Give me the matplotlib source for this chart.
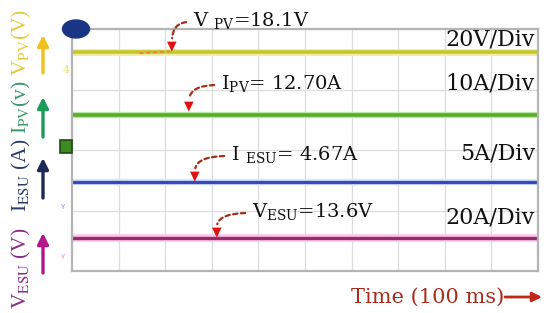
import numpy as np
import matplotlib
matplotlib.use('Agg')
from matplotlib import pyplot as plt
from matplotlib.patches import Ellipse, Rectangle

plt.rcParams['font.family'] = ['DejaVu Serif']
plt.rcParams['mathtext.fontset'] = 'custom'
plt.rcParams['mathtext.rm'] = 'DejaVu Serif'

W, H = 550, 313

# time axis in divisions (100 ms per div), trace levels in screen divisions
t = [0, 1, 2, 3, 4, 5, 6, 7, 8, 9, 10]
v_pv = [3.62] * 11
i_pv = [2.58] * 11
i_esu = [1.47] * 11
v_esu = [0.545] * 11

readings = [r'V $_{\mathrm{PV}}$=18.1V', r'I$_{\mathrm{PV}}$= 12.70A',
            r'I $_{\mathrm{ESU}}$= 4.67A', r'V$_{\mathrm{ESU}}$=13.6V']
scales = ['20V/Div', '10A/Div', '5A/Div', '20A/Div']


def fp(x, y):
    # reference pixel -> figure fraction
    return x / W, 1 - y / H


fig = plt.figure(figsize=(5.5, 3.13), dpi=100)
ax = fig.add_axes([72 / W, 1 - 271 / H, (538 - 72) / W, (271 - 29) / H])
ax.set_xlim(0, 10)
ax.set_ylim(0, 4)
ax.set_xticks(range(1, 10))
ax.set_yticks([1, 2, 3])
ax.tick_params(length=0, labelbottom=False, labelleft=False)
ax.grid(True, color='#dcdcdc', lw=0.9)
for s in ax.spines.values():
    s.set_color('#b4b4b4')
    s.set_linewidth(1.6)

# traces with a soft glow underneath
ax.plot(t, v_pv, color='#f0f0a0', lw=5, solid_capstyle='butt')
ax.plot(t, v_pv, color='#c6c62c', lw=2.6, solid_capstyle='butt')
ax.plot(t, i_pv, color='#b8e8a0', lw=4.5, solid_capstyle='butt')
ax.plot(t, i_pv, color='#5aaa2c', lw=2.6, solid_capstyle='butt')
ax.plot(t, i_esu, color='#d4e8f8', lw=4.5, solid_capstyle='butt')
ax.plot(t, i_esu, color='#3a48c0', lw=2.4, solid_capstyle='butt')
ax.plot(t, v_esu, color='#f8c8ec', lw=5.5, solid_capstyle='butt')
ax.plot(t, v_esu, color='#9a2a6a', lw=2.4, solid_capstyle='butt')

# channel markers on the left edge
fig.patches.append(Ellipse(fp(76, 29), 27 / W, 18 / H, transform=fig.transFigure,
                           color='#1b3585', zorder=5))
fig.patches.append(Rectangle(fp(60, 153), 12 / W, 13 / H, transform=fig.transFigure,
                             facecolor='#3c8a22', edgecolor='#1e4a10', lw=1.2, zorder=5))
fig.text(*fp(66, 70), '4', color='#e8e070', fontsize=8, ha='center', va='center')
fig.text(*fp(63, 208), 'ᵞ', color='#8a8ae0', fontsize=8, ha='center', va='center',
         family=['DejaVu Sans'])
fig.text(*fp(63, 258), 'ᵞ', color='#e090d0', fontsize=8, ha='center', va='center',
         family=['DejaVu Sans'])

# readings with dashed pointer arrows
text_pos = [(193, 21), (221, 84), (231, 155), (252, 212)]
tips = [(172, 47), (189, 107), (195, 177), (217, 233)]
for s, (x, y), (tx, ty) in zip(readings, text_pos, tips):
    fig.text(*fp(x, y), s, fontsize=14, ha='left', va='center', color='#111111')
    ax.annotate('', xy=fp(tx, ty - 6), xytext=fp(x - 4, y + 1),
                xycoords='figure fraction', textcoords='figure fraction',
                arrowprops=dict(arrowstyle='-', color='#a03018', lw=1.6,
                                linestyle=(0, (2, 1.5)),
                                connectionstyle='angle3,angleA=0,angleB=90'))
    fig.text(*fp(tx, ty - 1), '▼', color='#e01010', fontsize=9, ha='center',
             va='center', family=['DejaVu Sans'])

ax.plot([1.45, 2.1], [3.60, 3.63], color='#f08040', lw=1.4, ls=(0, (2, 1.5)))

scale_y = [40, 83, 153, 218]
for s, y in zip(scales, scale_y):
    fig.text(*fp(535, y), s, fontsize=16, ha='right', va='center', color='#111111')

# time label
fig.text(*fp(351, 297), 'Time (100 ms)', fontsize=15, ha='left', va='center',
         color='#a82a1a')
ax.annotate('', xy=fp(542, 297), xytext=fp(505, 297),
            xycoords='figure fraction', textcoords='figure fraction',
            arrowprops=dict(arrowstyle='-|>', color='#c02818', lw=2,
                            mutation_scale=14, shrinkA=0, shrinkB=0))

# left side channel labels
labels = [r'V$_{\mathrm{PV}}$(V)', r'I$_{\mathrm{PV}}$(v)',
          r'I$_{\mathrm{ESU}}$ (A)', r'V$_{\mathrm{ESU}}$ (V)']
lab_col = ['#e2cc3c', '#3a9a6a', '#2a3a6a', '#8a2a8a']
lab_y = [42, 107, 175, 268]
arrow_col = ['#f0c020', '#1e9a5a', '#1e2a55', '#b0168a']
arrow_y = [(73, 35), (137, 97), (198, 158), (273, 233)]
for s, c, y in zip(labels, lab_col, lab_y):
    fig.text(*fp(21, y), s, fontsize=15.5, rotation=90, ha='center', va='center',
             color=c, family=['Liberation Serif'], math_fontfamily='stix')
for c, (y0, y1) in zip(arrow_col, arrow_y):
    ax.annotate('', xy=fp(43, y1), xytext=fp(43, y0),
                xycoords='figure fraction', textcoords='figure fraction',
                arrowprops=dict(arrowstyle='-|>', color=c, lw=2.4,
                                mutation_scale=16, shrinkA=0, shrinkB=0))

fig.savefig('out.png', dpi=100)
